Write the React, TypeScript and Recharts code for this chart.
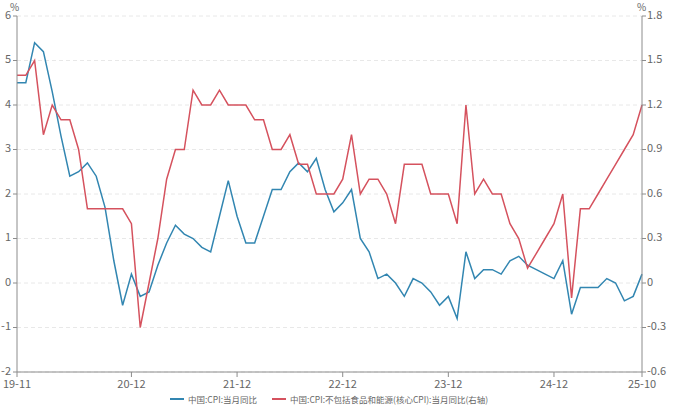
import React from 'react'
import { LineChart, Line, XAxis, YAxis, CartesianGrid } from 'recharts'

const months = [
    '19-11', '19-12',
    '20-01', '20-02', '20-03', '20-04', '20-05', '20-06', '20-07', '20-08', '20-09', '20-10', '20-11', '20-12',
    '21-01', '21-02', '21-03', '21-04', '21-05', '21-06', '21-07', '21-08', '21-09', '21-10', '21-11', '21-12',
    '22-01', '22-02', '22-03', '22-04', '22-05', '22-06', '22-07', '22-08', '22-09', '22-10', '22-11', '22-12',
    '23-01', '23-02', '23-03', '23-04', '23-05', '23-06', '23-07', '23-08', '23-09', '23-10', '23-11', '23-12',
    '24-01', '24-02', '24-03', '24-04', '24-05', '24-06', '24-07', '24-08', '24-09', '24-10', '24-11', '24-12',
    '25-01', '25-02', '25-03', '25-04', '25-05', '25-06', '25-07', '25-08', '25-09', '25-10',
]

// 中国:CPI:当月同比 (left axis)
const cpi = [
    4.5, 4.5,
    5.4, 5.2, 4.3, 3.3, 2.4, 2.5, 2.7, 2.4, 1.7, 0.5, -0.5, 0.2,
    -0.3, -0.2, 0.4, 0.9, 1.3, 1.1, 1.0, 0.8, 0.7, 1.5, 2.3, 1.5,
    0.9, 0.9, 1.5, 2.1, 2.1, 2.5, 2.7, 2.5, 2.8, 2.1, 1.6, 1.8,
    2.1, 1.0, 0.7, 0.1, 0.2, 0.0, -0.3, 0.1, 0.0, -0.2, -0.5, -0.3,
    -0.8, 0.7, 0.1, 0.3, 0.3, 0.2, 0.5, 0.6, 0.4, 0.3, 0.2, 0.1,
    0.5, -0.7, -0.1, -0.1, -0.1, 0.1, 0.0, -0.4, -0.3, 0.2,
]

// 中国:CPI:不包括食品和能源(核心CPI):当月同比 (right axis)
const coreCpi = [
    1.4, 1.4,
    1.5, 1.0, 1.2, 1.1, 1.1, 0.9, 0.5, 0.5, 0.5, 0.5, 0.5, 0.4,
    -0.3, 0.0, 0.3, 0.7, 0.9, 0.9, 1.3, 1.2, 1.2, 1.3, 1.2, 1.2,
    1.2, 1.1, 1.1, 0.9, 0.9, 1.0, 0.8, 0.8, 0.6, 0.6, 0.6, 0.7,
    1.0, 0.6, 0.7, 0.7, 0.6, 0.4, 0.8, 0.8, 0.8, 0.6, 0.6, 0.6,
    0.4, 1.2, 0.6, 0.7, 0.6, 0.6, 0.4, 0.3, 0.1, 0.2, 0.3, 0.4,
    0.6, -0.1, 0.5, 0.5, 0.6, 0.7, 0.8, 0.9, 1.0, 1.2,
]

const xTicks = ['19-11', '20-12', '21-12', '22-12', '23-12', '24-12', '25-10']
const leftTicks = [-2, -1, 0, 1, 2, 3, 4, 5, 6]
const rightTicks = [-0.6, -0.3, 0, 0.3, 0.6, 0.9, 1.2, 1.5, 1.8]

const BLUE = '#3286b1'
const RED = '#d5525e'
const AXIS = '#8c8c8c'
const TEXT = '#666'
const FONT = '"Noto Sans CJK SC", "Noto Sans", sans-serif'

export default function App() {
    const chartData = months.map((m, i) => ({ month: m, cpi: cpi[i], core: coreCpi[i] }))
    const tickStyle = { fontSize: 11, fill: TEXT, fontFamily: FONT }

    return (
        <div style={{ position: 'absolute', left: 0, top: 0, width: 673, height: 406, background: '#fff', fontFamily: FONT }}>
            <LineChart width={673} height={406} data={chartData} margin={{ top: 16, right: 0, bottom: 14, left: 0 }}>
                <CartesianGrid yAxisId="left" vertical={false} strokeDasharray="4 3" stroke="#e8e8e8" />
                <XAxis
                    dataKey="month"
                    ticks={xTicks}
                    interval={0}
                    height={20}
                    tickSize={5}
                    tickMargin={3}
                    stroke={AXIS}
                    tick={tickStyle}
                />
                <YAxis
                    yAxisId="left"
                    width={17}
                    domain={[-2, 6]}
                    ticks={leftTicks}
                    tickSize={4}
                    tickMargin={2}
                    stroke={AXIS}
                    tick={{ ...tickStyle, dy: -1 }}
                    allowDataOverflow
                />
                <YAxis
                    yAxisId="right"
                    orientation="right"
                    width={31}
                    domain={[-0.6, 1.8]}
                    ticks={rightTicks}
                    tickSize={4}
                    tickMargin={1}
                    stroke={AXIS}
                    tick={{ ...tickStyle, dy: -1 }}
                    allowDataOverflow
                />
                <Line yAxisId="left" dataKey="cpi" stroke={BLUE} strokeWidth={1.5} dot={false} isAnimationActive={false} />
                <Line yAxisId="right" dataKey="core" stroke={RED} strokeWidth={1.5} dot={false} isAnimationActive={false} />
            </LineChart>

            {/* axis units */}
            <div style={{ position: 'absolute', left: 10, top: -1, fontSize: 10, color: TEXT }}>%</div>
            <div style={{ position: 'absolute', left: 637, top: -1, fontSize: 10, color: TEXT }}>%</div>

            {/* legend */}
            <div style={{ position: 'absolute', left: 170, top: 393, height: 12, display: 'flex', alignItems: 'center', fontSize: 8.5, lineHeight: '12px', color: TEXT, whiteSpace: 'nowrap' }}>
                <span style={{ width: 14, height: 2, background: BLUE, marginRight: 4 }} />
                <span style={{ marginRight: 15 }}>中国:CPI:当月同比</span>
                <span style={{ width: 14, height: 2, background: RED, marginRight: 4 }} />
                <span>中国:CPI:不包括食品和能源(核心CPI):当月同比(右轴)</span>
            </div>
        </div>
    )
}
